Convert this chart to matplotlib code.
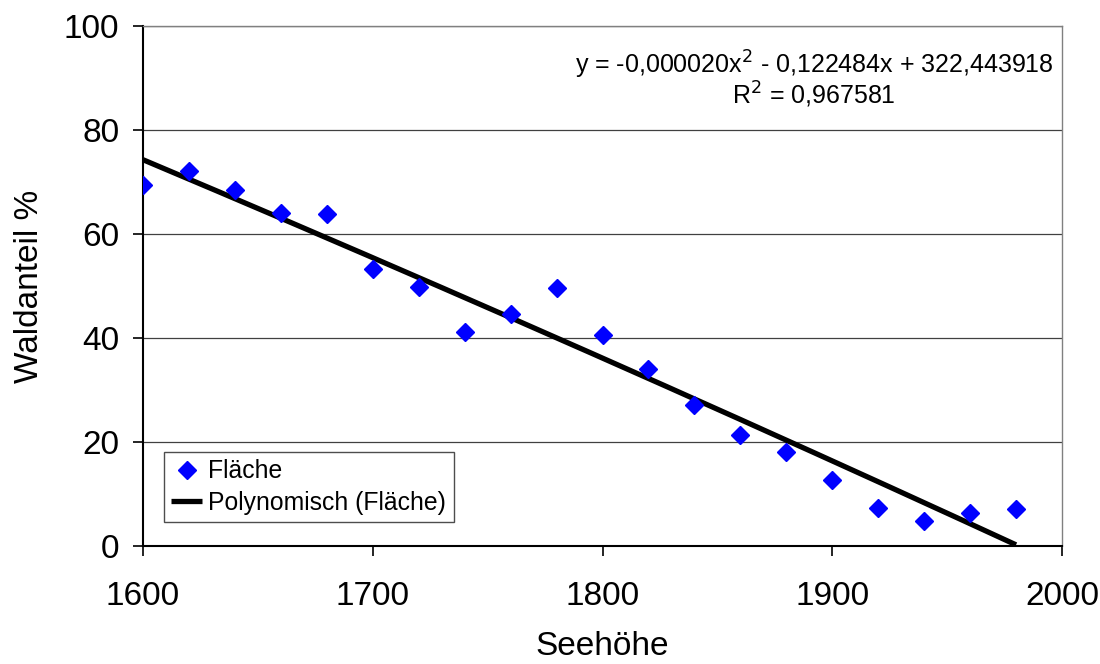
import numpy as np
import matplotlib
matplotlib.use("Agg")
import matplotlib.pyplot as plt

plt.rcParams['font.family'] = ['Liberation Sans', 'DejaVu Sans']

seehoehe = [1600, 1620, 1640, 1660, 1680, 1700, 1720, 1740, 1760, 1780,
            1800, 1820, 1840, 1860, 1880, 1900, 1920, 1940, 1960, 1980]
flaeche = [69.4, 72.1, 68.5, 64.0, 63.8, 53.3, 49.8, 41.2, 44.6, 49.6,
           40.6, 34.0, 27.1, 21.3, 18.1, 12.7, 7.3, 4.8, 6.3, 7.1]
x_ticks = [1600, 1700, 1800, 1900, 2000]
y_ticks = [0, 20, 40, 60, 80, 100]
equation = "y = -0,000020x$^2$ - 0,122484x + 322,443918"
r2_text = "R$^2$ = 0,967581"

W, H = 1100, 664
L, R, T, B = 143, 1062, 26, 546
fig = plt.figure(figsize=(W/100, H/100), dpi=100)
ax = fig.add_axes([L/W, 1-B/H, (R-L)/W, (B-T)/H])

def ax_x(px):
    return (px - L) / (R - L)

def ax_y(py):
    return (B - py) / (B - T)

x = np.array(seehoehe, dtype=float)
y = np.array(flaeche, dtype=float)
coef = np.polyfit(x, y, 2)
xf = np.linspace(x.min(), x.max(), 200)
yf = np.polyval(coef, xf)

ax.plot(x, y, linestyle='none', marker='D', markersize=9.5, color='#0000FF',
        label='Fläche', zorder=3)
ax.plot(xf, yf, color='black', linewidth=3.8, label='Polynomisch (Fläche)',
        zorder=2, solid_capstyle='butt')

ax.set_xlim(1600, 2000)
ax.set_ylim(0, 100)
ax.set_xticks(x_ticks)
ax.set_yticks(y_ticks)
ax.grid(axis='y', color='#404040', linewidth=0.9)
ax.set_axisbelow(True)
for s in ['top', 'right']:
    ax.spines[s].set_color('#808080')
    ax.spines[s].set_linewidth(1.0)
for s in ['left', 'bottom']:
    ax.spines[s].set_color('black')
    ax.spines[s].set_linewidth(1.5)
ax.tick_params(axis='both', labelsize=24, direction='out', length=7, width=1.2)
ax.tick_params(axis='x', pad=18.5)
ax.tick_params(axis='y', pad=10)
ax.set_xlabel('Seehöhe', fontsize=24)
ax.set_ylabel('Waldanteil %', fontsize=24)
ax.xaxis.set_label_coords(0.5, ax_y(631))
ax.yaxis.set_label_coords(ax_x(45), 0.5)

ax.text(ax_x(814), ax_y(74), equation, transform=ax.transAxes, ha='center',
        va='baseline', fontsize=18)
ax.text(ax_x(814), ax_y(104), r2_text, transform=ax.transAxes, ha='center',
        va='baseline', fontsize=18)

leg = ax.legend(loc='lower left', bbox_to_anchor=(ax_x(164), ax_y(522)), fontsize=17.8,
                frameon=True, fancybox=False, edgecolor='#202020', borderpad=0.3,
                handlelength=1.25, handletextpad=0.25, labelspacing=0.3, borderaxespad=0)
leg.get_frame().set_linewidth(1.0)

fig.savefig('out.png', dpi=100)
